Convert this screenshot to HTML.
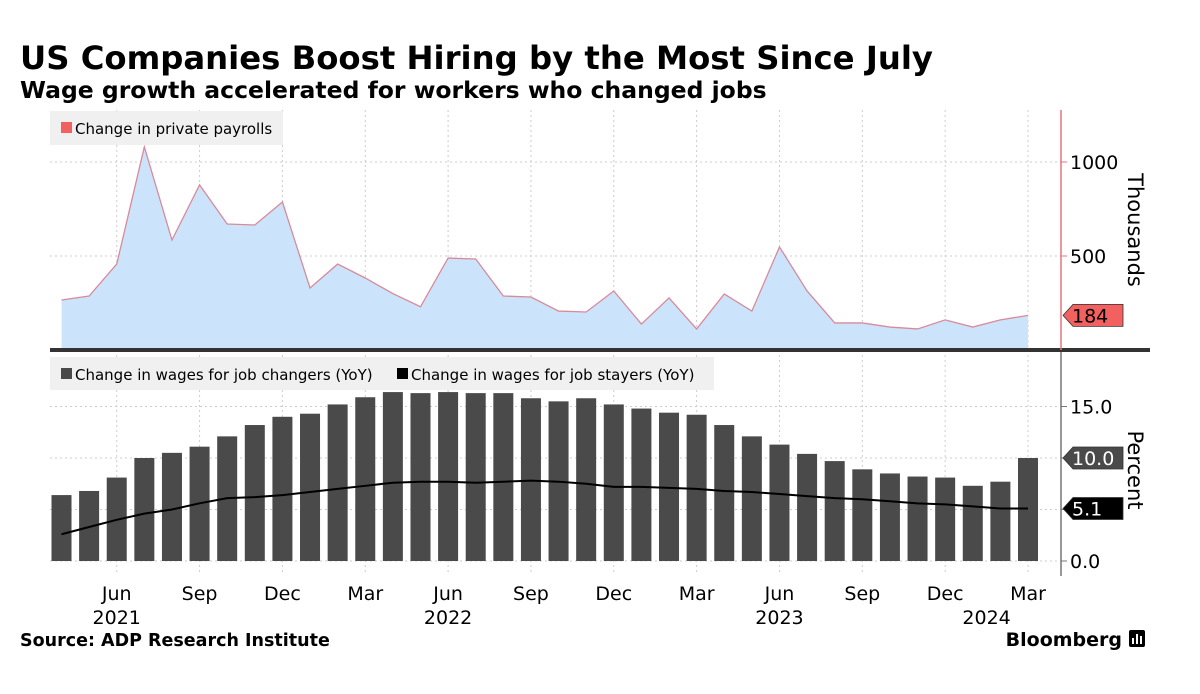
<!DOCTYPE html>
<html><head><meta charset="utf-8">
<style>
body{margin:0;background:#fff;font-family:"DejaVu Sans","Liberation Sans",sans-serif;}
#wrap{position:relative;width:1200px;height:694px;overflow:hidden;}
</style></head>
<body>
<div id="wrap">
<svg id="svg" width="1200" height="694" xmlns="http://www.w3.org/2000/svg">
<text x="20" y="69" font-family="DejaVu Sans" font-weight="bold" font-size="32.3" fill="#000">US Companies Boost Hiring by the Most Since July</text>
<text x="20" y="98" font-family="DejaVu Sans" font-weight="bold" font-size="23.5" fill="#000">Wage growth accelerated for workers who changed jobs</text>
<text x="20" y="646" font-family="DejaVu Sans" font-weight="bold" font-size="17.5" fill="#000">Source: ADP Research Institute</text>
<text x="1122" y="646" text-anchor="end" font-family="DejaVu Sans" font-weight="bold" font-size="19" fill="#000">Bloomberg</text>
<g>
<rect x="1129" y="630" width="16" height="17" rx="2" fill="#000"/>
<rect x="1132" y="638" width="2" height="6" fill="#fff"/><rect x="1136" y="634" width="2" height="10" fill="#fff"/><rect x="1140" y="636" width="2" height="8" fill="#fff"/>
</g>
<g id="plot"></g>
</svg>
</div>
<script>
const months=["Apr","May","Jun","Jul","Aug","Sep","Oct","Nov","Dec","Jan","Feb","Mar","Apr","May","Jun","Jul","Aug","Sep","Oct","Nov","Dec","Jan","Feb","Mar","Apr","May","Jun","Jul","Aug","Sep","Oct","Nov","Dec","Jan","Feb","Mar"];
const payrolls=[266,287,457,1080,585,878,670,665,787,330,457,383,300,230,489,484,287,282,207,202,314,138,277,112,298,207,548,314,144,144,122,112,160,122,160,184];
const changers=[6.4,6.8,8.1,10.0,10.5,11.1,12.1,13.2,14.0,14.3,15.2,15.9,16.4,16.3,16.4,16.3,16.3,15.8,15.5,15.8,15.2,14.8,14.4,14.2,13.2,12.1,11.3,10.4,9.7,8.9,8.5,8.2,8.1,7.3,7.7,10.0];
const stayers=[2.6,3.3,4.0,4.6,5.0,5.6,6.1,6.2,6.4,6.7,7.0,7.3,7.6,7.7,7.7,7.6,7.7,7.8,7.7,7.5,7.2,7.2,7.1,7.0,6.8,6.7,6.5,6.3,6.1,6.0,5.8,5.6,5.5,5.3,5.1,5.1];
const topTicks=[500,1000];
const botTicks=[0,5,10,15];
const botTickLabels=["0.0","","","15.0"];
const xTickIdx=[2,5,8,11,14,17,20,23,26,29,32,35];
const yearLabels=[{i:2,t:"2021"},{i:14,t:"2022"},{i:26,t:"2023"},{i:33.5,t:"2024"}];

const NS="http://www.w3.org/2000/svg";
const g=document.getElementById('plot');
function mk(tag,attrs,parent){const e=document.createElementNS(NS,tag);for(const k in attrs)e.setAttribute(k,attrs[k]);(parent||g).appendChild(e);return e;}
const X=i=>61.5+i*(1028-61.5)/(months.length-1);
const Y1=v=>350-v*0.188;
const Y2=v=>561-v*10.3;
const L=50,R=1061;

for(const v of topTicks){const l=mk('line',{x1:L,x2:R,y1:Y1(v),y2:Y1(v),stroke:'#ccc','stroke-dasharray':'2,3'});

}
for(const v of botTicks){const l=mk('line',{x1:L,x2:R,y1:Y2(v),y2:Y2(v),stroke:'#ccc','stroke-dasharray':'2,3'});

}
for(const i of xTickIdx){const l=mk('line',{x1:X(i),x2:X(i),y1:110,y2:575,stroke:'#ccc','stroke-dasharray':'2,3'});

}

let d='M'+X(0)+','+Y1(0);
payrolls.forEach((v,i)=>d+=' L'+X(i)+','+Y1(v));
d+=' L'+X(payrolls.length-1)+','+Y1(0)+' Z';
const area=mk('path',{d:d,fill:'#cce4fb'});


const pl=mk('polyline',{points:payrolls.map((v,i)=>X(i)+','+Y1(v)).join(' '),fill:'none',stroke:'#d98a9a','stroke-width':1.3});



const bw=20;
changers.forEach((v,i)=>{const b=mk('rect',{x:X(i)-bw/2,y:Y2(v),width:bw,height:Y2(0)-Y2(v),fill:'#4a4a4a'});

});
const sl=mk('polyline',{points:stayers.map((v,i)=>X(i)+','+Y2(v)).join(' '),fill:'none',stroke:'#000','stroke-width':2});



const sep=mk('rect',{x:L,y:348,width:1100,height:4,fill:'#333'});



const a1=mk('line',{x1:R,x2:R,y1:110,y2:350,stroke:'#e5737f','stroke-width':1.5});


const a2=mk('line',{x1:R,x2:R,y1:352,y2:576,stroke:'#777','stroke-width':1.5});


for(const v of topTicks){const t=mk('text',{x:R+9,y:Y1(v)+7,'font-size':19,fill:'#000'});t.textContent=v;


mk('line',{x1:R,x2:R+6,y1:Y1(v),y2:Y1(v),stroke:'#e5737f'});}
botTicks.forEach((v,k)=>{mk('line',{x1:R,x2:R+6,y1:Y2(v),y2:Y2(v),stroke:'#777'});
if(botTickLabels[k]){const t=mk('text',{x:R+9,y:Y2(v)+7,'font-size':19,fill:'#000'});t.textContent=botTickLabels[k];

}});
const t1=mk('text',{x:1128,y:230,'font-size':21,'text-anchor':'middle',transform:'rotate(90 1128 230)',fill:'#000'});t1.textContent='Thousands';


const t2=mk('text',{x:1128,y:470,'font-size':21,'text-anchor':'middle',transform:'rotate(90 1128 470)',fill:'#000'});t2.textContent='Percent';



function tag(y,txt,fill,tc,name){const p=mk('path',{d:`M${R+2},${y} L${R+12},${y-11} L${R+62},${y-11} L${R+62},${y+11} L${R+12},${y+11} Z`,fill:fill,stroke:'#333','stroke-width':0.8});


const t=mk('text',{x:R+11,y:y+7,'font-size':19,fill:tc});t.textContent=txt;

}
tag(Y1(payrolls[payrolls.length-1]),String(payrolls[payrolls.length-1]),'#f2605f','#000','payrolls-last-value');
tag(Y2(changers[changers.length-1]),changers[changers.length-1].toFixed(1),'#4a4a4a','#fff','changers-last-value');
tag(Y2(stayers[stayers.length-1]),stayers[stayers.length-1].toFixed(1),'#000','#fff','stayers-last-value');

for(const i of xTickIdx){const t=mk('text',{x:X(i),y:600,'font-size':19,'text-anchor':'middle',fill:'#000'});t.textContent=months[i];

}
for(const y of yearLabels){const t=mk('text',{x:X(y.i),y:624,'font-size':19,'text-anchor':'middle',fill:'#000'});t.textContent=y.t;

}

const lg1=mk('rect',{x:50,y:111,width:233,height:34,fill:'#f0f0f0'});


mk('rect',{x:61,y:122,width:11,height:11,fill:'#f2605f'});
const lt1=mk('text',{x:75,y:134,'font-size':15,fill:'#000'});lt1.textContent='Change in private payrolls';


const lg2=mk('rect',{x:50,y:357,width:664,height:33,fill:'#f0f0f0'});


mk('rect',{x:61,y:368,width:11,height:11,fill:'#4a4a4a'});
const lt2=mk('text',{x:75,y:380,'font-size':15,fill:'#000'});lt2.textContent='Change in wages for job changers (YoY)';


mk('rect',{x:397,y:368,width:11,height:11,fill:'#000'});
const lt3=mk('text',{x:411,y:380,'font-size':15,fill:'#000'});lt3.textContent='Change in wages for job stayers (YoY)';


</script>
</body></html>
